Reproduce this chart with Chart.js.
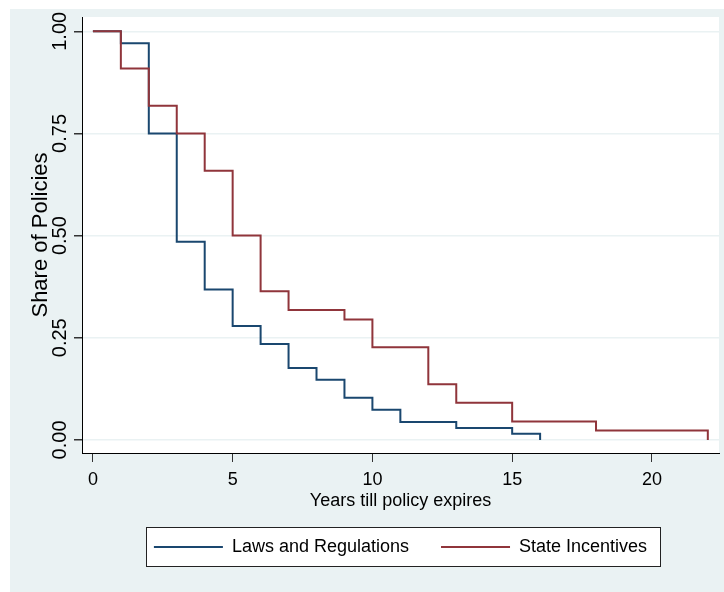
<!DOCTYPE html>
<html>
<head>
<meta charset="utf-8">
<script src="https://cdn.jsdelivr.net/npm/chart.js@4"></script>
<style>
  html, body { margin: 0; padding: 0; background: #fff; }
  canvas { display: block; }
</style>
</head>
<body>
<canvas id="survival" width="724" height="592"></canvas>
<script>
// Kaplan-Meier style survival estimates: value after each event time
const lawsYears = [0, 1, 2, 3, 4, 5, 6, 7, 8, 9, 10, 11, 13, 15, 16];
const lawsShare = [1.00, 0.971, 0.75, 0.485, 0.368, 0.279, 0.235, 0.176, 0.147, 0.103, 0.074, 0.044, 0.029, 0.015, 0.00];

const incentiveYears = [0, 1, 2, 3, 4, 5, 6, 7, 9, 10, 12, 13, 15, 18, 22];
const incentiveShare = [1.00, 0.909, 0.818, 0.75, 0.659, 0.50, 0.364, 0.318, 0.295, 0.227, 0.136, 0.091, 0.045, 0.023, 0.00];

const xTicks = [0, 5, 10, 15, 20];
const yTicks = [0, 0.25, 0.5, 0.75, 1];

const seriesNames = ['Laws and Regulations', 'State Incentives'];
const navy = '#1a476f';
const maroon = '#90353b';
const fontFamily = '"Liberation Sans", Arial, sans-serif';

function toPoints(xs, ys) {
  return xs.map((x, i) => ({ x: x, y: ys[i] }));
}

// plot background, white plot region and boxed legend
const frame = {
  id: 'frame',
  beforeDraw(chart) {
    const ctx = chart.ctx;
    const a = chart.chartArea;
    ctx.save();
    ctx.fillStyle = '#eaf2f3';
    ctx.fillRect(10, 9, chart.width - 10, chart.height - 9);
    ctx.fillStyle = '#fff';
    ctx.fillRect(a.left, a.top, a.right - a.left, a.bottom - a.top);

    const lg = chart.legend;
    const hb = lg.legendHitBoxes;
    if (hb && hb.length) {
      const first = hb[0];
      const last = hb[hb.length - 1];
      const cy = first.top + first.height / 2;
      const x0 = Math.round(first.left - 8) + 0.5;
      const x1 = Math.round(last.left + last.width + 13) + 0.5;
      const y0 = Math.round(cy - 20) + 0.5;
      ctx.fillStyle = '#fff';
      ctx.fillRect(x0, y0, x1 - x0, 39);
      ctx.strokeStyle = '#222';
      ctx.lineWidth = 1;
      ctx.strokeRect(x0, y0, x1 - x0, 39);
    }
    ctx.restore();
  }
};

new Chart(document.getElementById('survival'), {
  type: 'line',
  data: {
    datasets: [{
      label: seriesNames[0],
      data: toPoints(lawsYears, lawsShare),
      borderColor: navy,
      backgroundColor: navy,
      borderWidth: 2,
      stepped: true,
      pointRadius: 0,
      order: 1
    }, {
      label: seriesNames[1],
      data: toPoints(incentiveYears, incentiveShare),
      borderColor: maroon,
      backgroundColor: maroon,
      borderWidth: 2,
      stepped: true,
      pointRadius: 0,
      order: 0
    }]
  },
  options: {
    responsive: false,
    animation: false,
    devicePixelRatio: 1,
    layout: { padding: { top: 17, left: 28, right: 5, bottom: 26 } },
    plugins: {
      tooltip: { enabled: false },
      legend: {
        position: 'bottom',
        fullSize: false,
        labels: {
          boxWidth: 69,
          boxHeight: 2,
          padding: 32,
          color: '#000',
          font: { family: fontFamily, size: 18 },
          sort: (a, b) => a.datasetIndex - b.datasetIndex,
          generateLabels(chart) {
            return Chart.defaults.plugins.legend.labels.generateLabels(chart)
              .map(item => Object.assign(item, { lineWidth: 0 }));
          }
        }
      }
    },
    scales: {
      x: {
        type: 'linear',
        min: -0.39,
        max: 22.4,
        afterBuildTicks(scale) { scale.ticks = xTicks.map(v => ({ value: v })); },
        afterFit(scale) { scale.height = 53; },
        grid: { drawOnChartArea: false, tickLength: 9, tickColor: '#333' },
        border: { color: '#000', width: 1 },
        ticks: {
          padding: 7,
          color: '#000',
          font: { family: fontFamily, size: 18 },
          maxRotation: 0
        },
        title: {
          display: true,
          text: 'Years till policy expires',
          color: '#000',
          font: { family: fontFamily, size: 18 },
          padding: { top: 0, bottom: -6 }
        }
      },
      y: {
        type: 'linear',
        min: -0.032,
        max: 1.035,
        afterBuildTicks(scale) { scale.ticks = yTicks.map(v => ({ value: v })); },
        afterFit(scale) { scale.width = 54; },
        grid: { color: '#eaf2f3', lineWidth: 1.5, tickLength: 8, tickColor: '#333' },
        border: { color: '#000', width: 1 },
        ticks: {
          minRotation: 90,
          maxRotation: 90,
          crossAlign: 'center',
          padding: -5.5,
          color: '#000',
          font: { family: fontFamily, size: 20 },
          callback: v => v.toFixed(2)
        },
        title: {
          display: true,
          text: 'Share of Policies',
          color: '#000',
          font: { family: fontFamily, size: 22 },
          padding: { top: 0, bottom: 0 }
        }
      }
    }
  },
  plugins: [frame]
});
</script>
</body>
</html>
